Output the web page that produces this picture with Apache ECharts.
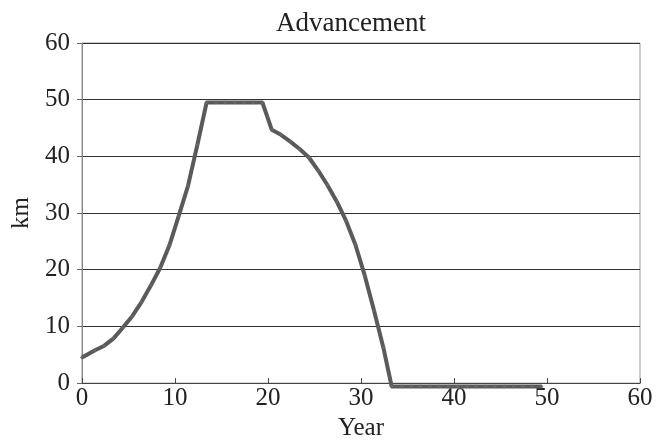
<!DOCTYPE html>
<html>
<head>
<meta charset="utf-8">
<script src="https://cdn.jsdelivr.net/npm/echarts@6/dist/echarts.min.js"></script>
<style>html,body{margin:0;padding:0;background:#fff;}#c{width:667px;height:446px;}</style>
</head>
<body>
<div id="c"></div>
<script>
const years = [0, 1.4, 2.4, 3.4, 4.4, 5.4, 6.4, 7.4, 8.4, 9.4, 10.4, 11.4, 12.4,
  13.4, 14.4, 15.4, 16.4, 17.4, 18.4, 19.4,
  20.4, 21.4, 22.4, 23.4, 24.4, 25.4, 26.4, 27.4, 28.4, 29.4, 30.4, 31.4, 32.4,
  33.3, 34.4, 35.4, 36.4, 37.4, 38.4, 39.4, 40.4, 41.4, 42.4, 43.4, 44.4, 45.4, 46.4, 47.4, 48.4, 49.4];
const advancement = [4.5, 5.8, 6.6, 7.9, 9.8, 11.8, 14.3, 17.2, 20.3, 24.3, 29.5, 34.8, 42,
  49.5, 49.5, 49.5, 49.5, 49.5, 49.5, 49.5,
  44.7, 43.8, 42.6, 41.3, 39.8, 37.5, 34.9, 32.0, 28.6, 24.4, 19, 12.8, 6.3,
  -0.6, -0.6, -0.6, -0.6, -0.6, -0.6, -0.6, -0.6, -0.6, -0.6, -0.6, -0.6, -0.6, -0.6, -0.6, -0.6, -0.6];
const xTicks = [0, 10, 20, 30, 40, 50, 60];
const yTicks = [0, 10, 20, 30, 40, 50, 60];

const font = '"Liberation Serif", "DejaVu Serif", serif';
const chart = echarts.init(document.getElementById('c'));
chart.setOption({
  backgroundColor: '#fff',
  animation: false,
  title: {
    text: 'Advancement', left: 346, top: 5, textAlign: 'center',
    textStyle: { fontFamily: font, fontSize: 27, fontWeight: 'normal', color: '#222' }
  },
  grid: { left: 82, right: 27, top: 43, bottom: 59, show: true, borderColor: '#999', borderWidth: 1 },
  xAxis: {
    type: 'value', min: xTicks[0], max: xTicks[xTicks.length - 1], interval: 10,
    name: 'Year', nameLocation: 'middle', nameGap: 31,
    nameTextStyle: { fontFamily: font, fontSize: 25, color: '#222' },
    axisLine: { show: true, lineStyle: { color: '#444', width: 1 } },
    axisTick: { show: true, inside: true, length: 5, lineStyle: { color: '#444' } },
    axisLabel: { fontFamily: font, fontSize: 25, color: '#222', margin: 3 },
    splitLine: { show: false }
  },
  yAxis: {
    type: 'value', min: yTicks[0], max: yTicks[yTicks.length - 1], interval: 10,
    name: 'km', nameLocation: 'middle', nameGap: 46, nameRotate: 90,
    nameTextStyle: { fontFamily: font, fontSize: 25, color: '#222' },
    axisLine: { show: true, lineStyle: { color: '#888', width: 1 } },
    axisTick: { show: true, length: 5, lineStyle: { color: '#666' } },
    axisLabel: { fontFamily: font, fontSize: 25, color: '#222', margin: 12 },
    splitLine: { show: true, lineStyle: { color: '#333', width: 1 } }
  },
  series: [{
    type: 'line',
    data: years.map((y, i) => [y, advancement[i]]),
    clip: false,
    symbol: 'diamond', symbolSize: 4, showSymbol: true,
    itemStyle: { color: '#666' },
    lineStyle: { color: '#5a5a5a', width: 4 }
  }]
});
</script>
</body>
</html>
